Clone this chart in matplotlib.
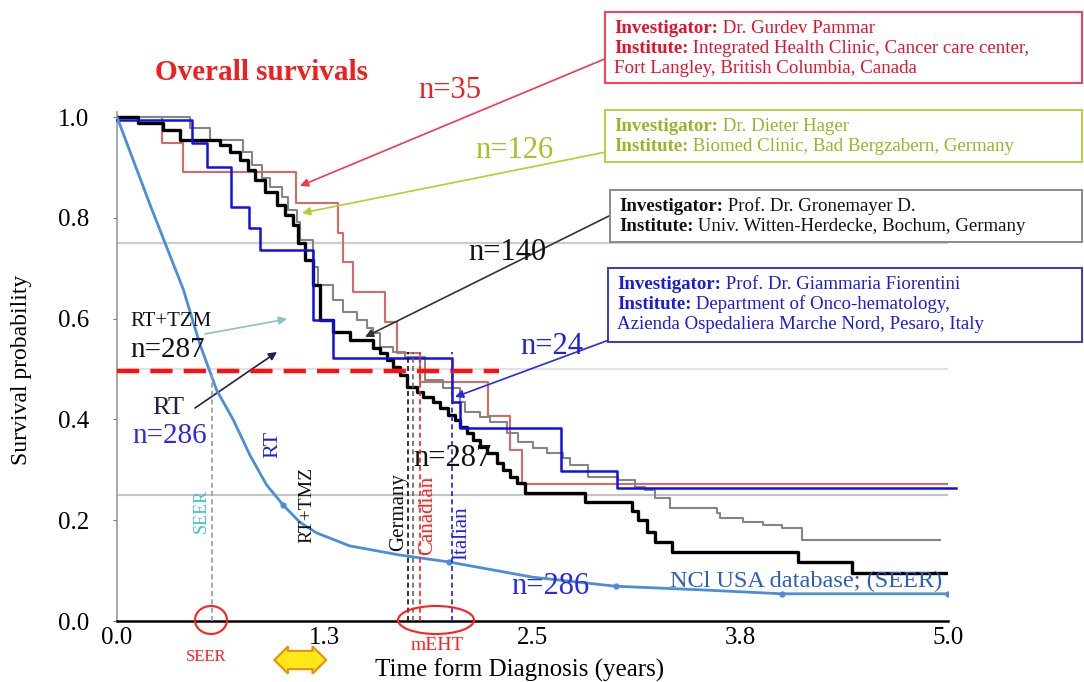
import matplotlib
matplotlib.use("Agg")
import matplotlib.pyplot as plt
from matplotlib.patches import Rectangle, Ellipse

plt.rcParams.update({
    "font.family": "serif",
    "font.serif": ["Liberation Serif", "DejaVu Serif"],
})

W, H = 1084, 682

# -----------------------------------------------------------------------
# DATA: Kaplan-Meier steps (time in years, survival)
# -----------------------------------------------------------------------
# Canadian cohort, n=35
RED_T = [0, 0.27, 0.40, 1.08, 1.33, 1.36, 1.42, 1.61, 1.685, 1.823, 2.23, 2.365, 2.437, 5.0]
RED_S = [1.0, 0.948, 0.891, 0.829, 0.770, 0.712, 0.653, 0.593, 0.532, 0.474, 0.407, 0.339, 0.272, 0.272]

# Italian cohort, n=24
BLUE_T = [0, 0.451, 0.542, 0.686, 0.794, 0.86, 1.179, 1.30, 2.016, 2.064, 2.671, 3.008, 5.05]
BLUE_S = [0.995, 0.948, 0.901, 0.821, 0.780, 0.736, 0.597, 0.522, 0.435, 0.383, 0.298, 0.264, 0.264]

# German cohort (Hager), n=126
GREY_T = [0, 0.439, 0.56, 0.758, 0.812, 0.872, 0.921, 0.993, 1.029, 1.083, 1.101, 1.179,
          1.209, 1.30, 1.36, 1.444, 1.504, 1.54, 1.582, 1.661, 1.733, 1.853, 1.961, 2.064,
          2.094, 2.184, 2.244, 2.347, 2.413, 2.503, 2.587, 2.684, 2.726, 2.834, 3.014, 3.117,
          3.177, 3.237, 3.327, 3.61, 3.628, 3.767, 3.887, 4.001, 4.122, 4.952]
GREY_S = [1.0, 0.978, 0.954, 0.931, 0.905, 0.879, 0.861, 0.841, 0.815, 0.792, 0.756, 0.702,
          0.667, 0.637, 0.613, 0.597, 0.581, 0.571, 0.544, 0.534, 0.524, 0.478, 0.462, 0.435,
          0.415, 0.405, 0.395, 0.373, 0.355, 0.343, 0.333, 0.323, 0.310, 0.286, 0.280, 0.266,
          0.260, 0.244, 0.224, 0.214, 0.204, 0.196, 0.190, 0.185, 0.161, 0.161]

# German cohort (Gronemeyer), n=140
BLACK_T = [0, 0.126, 0.277, 0.379, 0.62, 0.68, 0.74, 0.788, 0.83, 0.89, 0.963, 1.011, 1.059,
           1.089, 1.131, 1.179, 1.221, 1.30, 1.402, 1.54, 1.582, 1.625, 1.661, 1.703, 1.745,
           1.805, 1.841, 1.901, 1.943, 1.992, 2.034, 2.064, 2.106, 2.142, 2.184, 2.226, 2.286,
           2.323, 2.365, 2.407, 2.455, 2.816, 3.099, 3.135, 3.189, 3.237, 3.339, 4.097, 4.422, 5.0]
BLACK_S = [1.0, 0.988, 0.974, 0.954, 0.944, 0.931, 0.915, 0.895, 0.875, 0.851, 0.825, 0.806,
           0.786, 0.750, 0.716, 0.667, 0.597, 0.573, 0.558, 0.542, 0.532, 0.518, 0.504, 0.488,
           0.464, 0.454, 0.444, 0.435, 0.423, 0.409, 0.399, 0.385, 0.373, 0.359, 0.345, 0.333,
           0.313, 0.300, 0.286, 0.274, 0.254, 0.236, 0.218, 0.200, 0.177, 0.157, 0.137, 0.117,
           0.095, 0.095]

# NCI SEER database, RT (+TMZ)
SEER_T = [0, 0.2, 0.4, 0.5, 0.6, 0.7, 0.8, 0.9, 1.0, 1.1, 1.2, 1.4, 1.7, 2.0, 2.5, 3.0, 3.5, 4.0, 5.0]
SEER_S = [1.0, 0.825, 0.657, 0.548, 0.458, 0.399, 0.329, 0.270, 0.230, 0.196, 0.175, 0.149,
          0.131, 0.117, 0.087, 0.069, 0.062, 0.054, 0.054]
SEER_MARKS = [8, 13, 15, 17, 18]

# median survival markers
MEDIAN_NAMES = ["Germany", "Germany", "Canadian", "Italian", "SEER"]
MEDIAN_T = [1.75, 1.78, 1.823, 2.016, 0.57]
MEDIAN_COLORS = ["#111111", "#666666", "#ff2020", "#2020e0", "#9a9a9a"]

X_TICKS = [0, 1.25, 2.5, 3.75, 5.0]
X_LABELS = ["0.0", "1.3", "2.5", "3.8", "5.0"]
Y_TICKS = [0, 0.2, 0.4, 0.6, 0.8, 1.0]
Y_LABELS = ["0.0", "0.2", "0.4", "0.6", "0.8", "1.0"]


def fp(px, py):
    # reference pixel -> figure fraction
    return px / W, 1 - py / H


fig = plt.figure(figsize=(W / 100, H / 100), dpi=100)
ax = fig.add_axes([117 / W, 1 - 621 / H, (948 - 117) / W, (621 - 112) / H])
ax.set_xlim(0, 5.0)
ax.set_ylim(0, 1.01)

# grid lines
for yg, c in [(0.25, "#c4c4c4"), (0.5, "#e2e2e2"), (0.75, "#cdcdcd")]:
    ax.axhline(yg, color=c, lw=1.6, zorder=0)

ax.step(RED_T, RED_S, where="post", color="#d46a6a", lw=1.5, zorder=3)
ax.step(GREY_T, GREY_S, where="post", color="#858585", lw=1.5, zorder=3)
ax.step(BLACK_T, BLACK_S, where="post", color="#000000", lw=2.4, zorder=4)
ax.step(BLUE_T, BLUE_S, where="post", color="#1010e8", lw=1.8, zorder=5, clip_on=False)
ax.plot(SEER_T, SEER_S, color="#4a8ed8", lw=2.0, marker="o", ms=3.5,
        markevery=SEER_MARKS, zorder=5)

# median line and median markers
ax.hlines(0.497, 0, 2.3, color="#ff1010", lw=3.2, linestyles=(0, (5, 2.5)), zorder=6)
for name, t, c in zip(MEDIAN_NAMES, MEDIAN_T, MEDIAN_COLORS):
    top = 0.497 if name == "SEER" else 0.534
    ax.vlines(t, 0, top, color=c, lw=1.2, linestyles=(0, (3, 2)), zorder=6)

ax.set_xticks(X_TICKS, X_LABELS)
ax.set_yticks(Y_TICKS, Y_LABELS)
ax.tick_params(axis="y", length=3, pad=17, labelsize=18, color="#777777")
ax.tick_params(axis="x", length=0, pad=4, labelsize=18)
for s in ["top", "right"]:
    ax.spines[s].set_visible(False)
ax.spines["left"].set_color("#999999")
ax.spines["left"].set_linewidth(1.2)
ax.spines["bottom"].set_linewidth(1.8)

fig.text(*fp(22, 370), "Survival probability", rotation=90, fontsize=17,
         ha="center", va="center")
fig.text(*fp(520, 670), "Time form Diagnosis (years)", fontsize=18,
         ha="center", va="center")
fig.text(*fp(155, 72), "Overall survivals", fontsize=21, weight="bold",
         color="#f02020", ha="left", va="center")

# -----------------------------------------------------------------------
# investigator boxes
# -----------------------------------------------------------------------
BOXES = [
    ((605, 12, 1082, 83), "#ff3a55", "#e8102a",
     [("Investigator:", " Dr. Gurdev Pammar"),
      ("Institute:", " Integrated Health Clinic, Cancer care center,"),
      ("", "Fort Langley, British Columbia, Canada")]),
    ((605, 110, 1082, 162), "#b8d040", "#9ab428",
     [("Investigator:", " Dr. Dieter Hager"),
      ("Institute:", " Biomed Clinic, Bad Bergzabern, Germany")]),
    ((610, 190, 1082, 242), "#8a8a8a", "#111111",
     [("Investigator:", " Prof. Dr. Gronemayer D."),
      ("Institute:", " Univ. Witten-Herdecke, Bochum, Germany")]),
    ((608, 268, 1082, 342), "#3535e0", "#1a1ae0",
     [("Investigator:", " Prof. Dr. Giammaria Fiorentini"),
      ("Institute:", " Department of Onco-hematology,"),
      ("", "Azienda Ospedaliera Marche Nord, Pesaro, Italy")]),
]
renderer = fig.canvas.get_renderer()
to_fig = fig.transFigure.inverted()
for (x0, y0, x1, y1), edge, tc, lines in BOXES:
    fig.add_artist(Rectangle(fp(x0, y1), (x1 - x0) / W, (y1 - y0) / H,
                             transform=fig.transFigure, fc="white", ec=edge, lw=1.4, zorder=1))
    for i, (bold, rest) in enumerate(lines):
        bx, by = fp(x0 + 9, y0 + 21 + 20 * i)
        if bold:
            b = fig.text(bx, by, bold, weight="bold", color=tc, fontsize=13.6,
                         ha="left", va="baseline", zorder=2)
            right = b.get_window_extent(renderer).x1
            bx = to_fig.transform((right, 0))[0]
        fig.text(bx, by, rest, color=tc, fontsize=13.6, ha="left", va="baseline", zorder=2)

# arrows from boxes / labels to the curves
ARROWS = [((607, 58), (300, 186), "#f03a50"),
          ((606, 152), (302, 213), "#b8cc30"),
          ((611, 215), (365, 337), "#333333"),
          ((609, 340), (455, 397), "#2a2ae0"),
          ((205, 334), (287, 319), "#8fbfbf"),
          ((195, 408), (277, 352), "#202050")]
for (tx, ty), (hx, hy), c in ARROWS:
    ax.annotate("", xy=fp(hx, hy), xycoords="figure fraction",
                xytext=fp(tx, ty), textcoords="figure fraction",
                arrowprops=dict(arrowstyle="-|>", color=c, lw=1.2, mutation_scale=12,
                                shrinkA=0, shrinkB=0),
                annotation_clip=False)

# -----------------------------------------------------------------------
# labels
# -----------------------------------------------------------------------
LABELS = [
    ("n=35", (450, 90), "#e82020", 22, 0, "center"),
    ("n=126", (514, 150), "#a6c02a", 22, 0, "center"),
    ("n=140", (507, 252), "#111111", 22, 0, "center"),
    ("n=24", (552, 346), "#2020e0", 22, 0, "center"),
    ("n=287", (452, 458), "#111111", 22, 0, "center"),
    ("n=286", (550, 586), "#2a2ae0", 22, 0, "center"),
    ("RT+TZM", (130, 322), "#111111", 15, 0, "left"),
    ("n=287", (130, 350), "#111111", 21, 0, "left"),
    ("RT", (168, 408), "#202050", 19, 0, "center"),
    ("n=286", (170, 436), "#2a2ae0", 21, 0, "center"),
    ("RT", (273, 444), "#2020e0", 16, 90, "center"),
    ("RT+TMZ", (307, 505), "#111111", 14, 90, "center"),
    ("SEER", (201, 511), "#40c0d0", 13, 90, "center"),
    ("Germany", (399, 512), "#111111", 15, 90, "center"),
    ("Canadian", (428, 515), "#ff2020", 15, 90, "center"),
    ("Italian", (462, 533), "#2020e0", 15, 90, "center"),
    ("NCl USA database; (SEER)", (670, 581), "#2a60b8", 17.5, 0, "left"),
    ("SEER", (206, 657), "#ff2020", 12, 0, "center"),
    ("mEHT", (437, 646), "#ff2020", 14, 0, "center"),
]
for txt, (px, py), c, fs, rot, ha in LABELS:
    fig.text(*fp(px, py), txt, color=c, fontsize=fs, rotation=rot, ha=ha, va="center")

# circled regions below the axis
fig.add_artist(Ellipse(fp(211, 620), 32 / W, 28 / H, transform=fig.transFigure,
                       fill=False, ec="#ff2020", lw=1.5))
fig.add_artist(Ellipse(fp(436, 620), 76 / W, 28 / H, transform=fig.transFigure,
                       fill=False, ec="#ff2020", lw=1.5))
fig.text(*fp(300, 660), "          ", fontsize=9, ha="center", va="center",
         bbox=dict(boxstyle="darrow,pad=0.25", fc="#ffe81a", ec="#e8900a", lw=1.5))

fig.savefig("out.png", dpi=100, facecolor="white")
